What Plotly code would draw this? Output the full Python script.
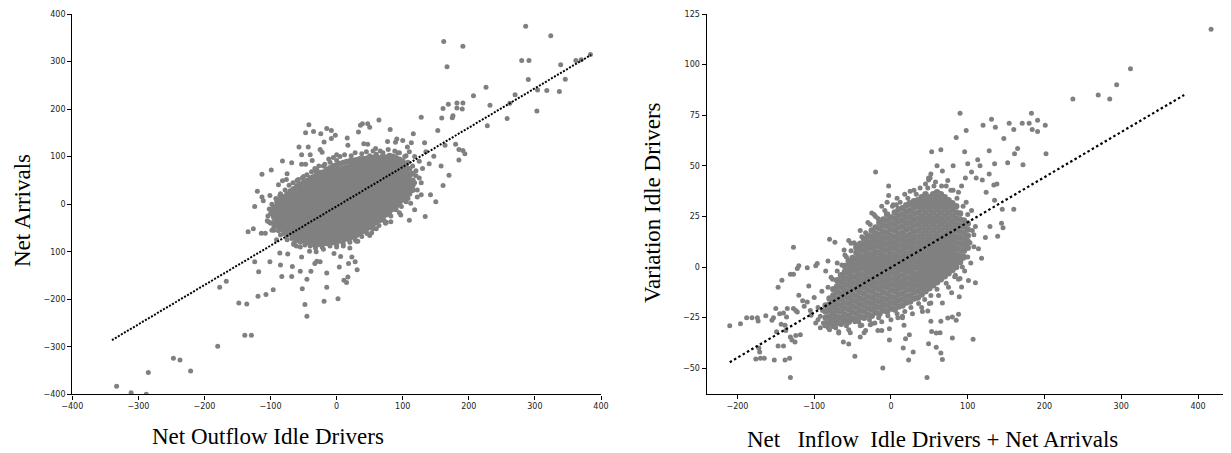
import plotly.graph_objects as go

# ---------------- Left panel data: Net Outflow Idle Drivers vs Net Arrivals ----------------
left_upper = [(286,374),(324,354),(162,342),(191,332),(167,289),(280,302),(291,302),(339,293),(362,302),(370,304),
              (384,315),(290,262),(346,263),(337,237),(318,239),(304,240),(303,196),(270,230),(262,212),(258,180),
              (226,246),(207,228),(232,208),(228,165),(182,213),(191,213),(169,210),(161,201),(190,200),(182,202),
              (176,186),(175,182),(159,181),(128,183),(153,155),(180,126),(185,115),(191,113),(194,106),(185,93),
              (164,124),(147,101),(158,80),(170,61),(161,39),(150,5),(134,-26),(110,-34),(97,-23),(142,20),
              (133,129),(116,148),(107,120)]
left_lower = [(-333,-383),(-311,-397),(-288,-400),(-285,-354),(-247,-324),(-237,-328),(-221,-351),(-180,-299),
              (-139,-276),(-129,-276),(-148,-208),(-136,-210),(-119,-194),(-107,-190),(-96,-180),(-177,-175),
              (-167,-162),(-118,-142),(-124,-121),(-101,-121),(-85,-128),(-83,-152),(-68,-152),(-67,-131),
              (-65,-82),(-91,-75),(-86,-103),(-74,-105),(-55,-141),(-52,-178),(-48,-211),(-45,-236),(-45,-158),
              (-39,-141),(-33,-125),(-30,-120),(-19,-204),(-15,-175),(-15,-145),(2,-199),(11,-160),(15,-165),
              (17,-153),(4,-132),(31,-138),(28,-121),(18,-125),(23,-111),(6,-110),(-4,-104),(-25,-121),(-31,-100),
              (-41,-99),(-53,-111),(-61,-88),(20,-92),(32,-78),(34,-62),(44,-55),(53,-60),(65,-35),(74,-40),
              (82,-37),(62,-22),(-134,-58),(-126,-52),(-114,-61),(-108,-61),(-98,-55),(-103,-37),(-99,-14),
              (-111,7),(-113,15),(-120,27),(-124,-5),(-101,18)]
left_mid = [(-113,63),(-99,72),(-82,91),(-88,41),(-82,49),(-75,64),(-76,52),(-68,87),(-57,120),(-53,104),
            (-47,150),(-42,167),(-35,153),(-37,92),(-40,104),(-43,120),(-53,84),(-47,84),(-31,68),(-25,115),
            (-24,148),(-19,131),(-22,109),(-15,159),(-8,155),(-2,145),(-8,138),(0,104),(17,124),(16,139),
            (33,152),(36,166),(39,169),(47,169),(50,162),(64,177),(41,127),(47,126),(59,117),(81,157),
            (77,132),(89,130),(91,137),(100,134),(113,129)]
left_halo = [(120,60),(125,90),(130,75),(118,100),(135,110),(128,45),(140,85),(110,110),(105,102),(95,108),
             (88,112),(70,108),(60,105),(50,102),(-10,88),(0,92),(-20,80),(-30,72),(-50,58),(-60,50),
             (-100,-20),(-105,-35),(-95,-55),(-85,-65),(-75,-75),(-65,-85),(-55,-90),(-20,-95),(0,-90),(10,-88),
             (30,-78),(50,-66),(60,-52),(75,-38),(95,-18),(112,2),(122,15),(118,-12),
             (-85,22),(-78,30),(-72,40),(-66,45),(-58,52),(-52,55),(-45,62),(-38,68),(-33,75),(-27,80),
             (-18,84),(-12,95),(-5,98),(5,100),(12,104),(22,102),(28,108),(38,106),(45,110),(55,112),
             (66,112),(78,115),(92,108),(103,100),(108,88),(115,80),(120,70),(125,55),(118,45),(112,35),
             (122,30),(128,20),(108,12),(105,5),(98,-5),(90,-12),(82,-25),(72,-35),(64,-45),(55,-52),
             (46,-62),(38,-68),(28,-75),(20,-80),(10,-84),(0,-86),(-10,-88),(-22,-90),(-32,-92),(-40,-88),
             (-48,-86),(-55,-80),(-62,-78),(-68,-72),(-75,-66),(-80,-62),(-88,-56),(-95,-48),(-100,-40),
             (-104,-25),(-102,-10),(-98,0),(-92,12),(-86,18)]
# dense central cloud, read column by column: (x, [y values])
left_core = [
    (-95, [-38,-27,-16,-6]),
    (-90, [-46,-35,-24,-13,-3,5]),
    (-85, [-51,-41,-30,-19,-8,2,10]),
    (-80, [-55,-45,-35,-25,-14,-4,6,15]),
    (-75, [-59,-49,-38,-28,-18,-8,2,12,21]),
    (-70, [-63,-53,-43,-33,-23,-13,-3,7,17,27]),
    (-65, [-67,-57,-47,-37,-27,-17,-7,3,13,23,32]),
    (-60, [-71,-61,-51,-41,-31,-21,-11,-1,9,19,29,38]),
    (-55, [-74,-64,-54,-44,-34,-24,-14,-4,6,16,26,35,42]),
    (-50, [-77,-67,-57,-47,-37,-27,-17,-7,3,13,23,33,45]),
    (-45, [-80,-70,-60,-50,-40,-30,-20,-10,0,10,20,30,40,49]),
    (-40, [-82,-72,-62,-52,-42,-32,-22,-12,-2,8,18,28,38,48,55]),
    (-35, [-84,-74,-64,-54,-44,-34,-24,-14,-4,6,16,26,36,46,57]),
    (-30, [-85,-75,-65,-55,-45,-35,-25,-15,-5,5,15,25,35,45,55,62]),
    (-25, [-84,-74,-64,-54,-44,-34,-24,-14,-4,6,16,26,36,46,56,66]),
    (-20, [-83,-73,-63,-53,-43,-33,-23,-13,-3,7,17,27,37,47,57,67]),
    (-15, [-82,-72,-62,-52,-42,-32,-22,-12,-2,8,18,28,38,48,58,68,73]),
    (-10, [-81,-71,-61,-51,-41,-31,-21,-11,-1,9,19,29,39,49,59,69,76]),
    (-5,  [-80,-70,-60,-50,-40,-30,-20,-10,0,10,20,30,40,50,60,70,80]),
    (0,   [-78,-68,-58,-48,-38,-28,-18,-8,2,12,22,32,42,52,62,72,82]),
    (5,   [-77,-67,-57,-47,-37,-27,-17,-7,3,13,23,33,43,53,63,73,85]),
    (10,  [-75,-65,-55,-45,-35,-25,-15,-5,5,15,25,35,45,55,65,75,87]),
    (15,  [-73,-63,-53,-43,-33,-23,-13,-3,7,17,27,37,47,57,67,77,89]),
    (20,  [-71,-61,-51,-41,-31,-21,-11,-1,9,19,29,39,49,59,69,79,91]),
    (25,  [-68,-58,-48,-38,-28,-18,-8,2,12,22,32,42,52,62,72,82,92]),
    (30,  [-65,-55,-45,-35,-25,-15,-5,5,15,25,35,45,55,65,75,85,93]),
    (35,  [-61,-51,-41,-31,-21,-11,-1,9,19,29,39,49,59,69,79,89,95]),
    (40,  [-57,-47,-37,-27,-17,-7,3,13,23,33,43,53,63,73,83,95]),
    (45,  [-53,-43,-33,-23,-13,-3,7,17,27,37,47,57,67,77,87,96]),
    (50,  [-48,-38,-28,-18,-8,2,12,22,32,42,52,62,72,82,92,98]),
    (55,  [-43,-33,-23,-13,-3,7,17,27,37,47,57,67,77,87,98]),
    (60,  [-38,-28,-18,-8,2,12,22,32,42,52,62,72,82,92,100]),
    (65,  [-33,-23,-13,-3,7,17,27,37,47,57,67,77,87,97]),
    (70,  [-27,-17,-7,3,13,23,33,43,53,63,73,83,93,101]),
    (75,  [-22,-12,-2,8,18,28,38,48,58,68,78,88,98]),
    (80,  [-16,-6,4,14,24,34,44,54,64,74,84,94,102]),
    (85,  [-10,0,10,20,30,40,50,60,70,80,90,100]),
    (90,  [-4,6,16,26,36,46,56,66,76,86,97]),
    (95,  [3,13,23,33,43,53,63,73,83,94]),
    (100, [9,19,29,39,49,59,69,79,90]),
    (105, [15,25,35,45,55,65,75,84]),
    (110, [22,32,42,52,62,74]),
    (115, [30,40,50,64]),
]
left_fit_x = [-340, 385]
left_fit_y = [-286, 314]

# ---------------- Right panel data: Net Inflow Idle Drivers + Net Arrivals vs Variation Idle Drivers ----------------
right_pts = [(417,117.5),(312,98),(294,90),(270,85),(285,83),(237,83),(183,76),(180,71),(191,72.5),(201,70),
             (184,68),(191,67),(171,71),(154,71),(160,68),(136,69),(131,73),(120,70),(98,67.5),(85,64),(90,76),
             (147,63.5),(165,58.6),(161,56),(202,56),(128,57.5),(96,57),(65,58),(53,57),(172,50.5),(152,51.5),
             (135,51),(116,50),(113,53),(100,51),(81,50),(60,50),(67,47.5),(49,44),(51,44),(128,46),(105,47),
             (97,44),(111,44),(119,43),(134,40.5),(138,41),(124,37),(135,33),(145,28.5),(160,28.6),(144,21.7),
             (146,19.4),(139,15.2),(129,20),(123,14.6),(108,16),(118,4.3),(114,9),(110,-7.8),(101,-6.6),(90,-5.6),
             (92,-9.8),(89,-14.7),(79,-12.7),(94,4.3),(83,-4.8),(52,-17.7),(48,-21.7),(41,-22),(67,-17.7),
             (80,-24.7),(88,-23.3),(85,-26.3),(74,-25.2),(65,-26.8),(52,-26.8),(53,-31.8),(59,-32.6),(64,-32.5),
             (80,-35),(107,-35.6),(49,-37.9),(59,-39.6),(65,-42.5),(67,-45.7),(47,-54.5),(29,-42),(23,-45.9),
             (16,-40),(24,-33.4),(19,-35.4),(-2,-36),(-10.6,-49.8),(-12,-31.3),(-2,-30.5),(17,-28.8),(15,-24.3),
             (9,-25),(-47,-44),(-62,-37),(-55,-38),(-53,-32.5),(-68,-32.6),(-40,-34.6),(-35,-32.5),(-33,-31.3),
             (-38,-28.8),(-27,-28.5),(-21,-27.6),(-17,-31.3),(-47,-27),(-54,-26.8),(-75,-28.8),(-82,-29.8),
             (-88,-27.6),(-98,-27.6),(-92,-24.3),(-89,-21.4),(-104,-23.8),(-105,-21.4),(-113,-19.4),(-109,-17.2),
             (-115,-16.7),(-107,-9.3),(-120,-13.9),(-124,-21.4),(-122,-22.2),(-127,-20.5),(-135,-20.5),
             (-136,-24.7),(-140,-22.7),(-145,-23),(-150,-20.5),(-153,-25),(-155,-26.3),(-163,-24),(-174,-25),
             (-181,-25),(-188,-25),(-196,-28),(-210,-29),(-173,-26.7),(-149,-32),(-143,-28.3),(-138,-28.8),
             (-137,-31.3),(-131,-34.6),(-129,-36),(-125,-37),(-124,-33.8),(-118,-33.4),(-147,-39),(-140,-39),
             (-132,-45),(-138,-45.9),(-152,-45.9),(-165,-45),(-170,-45),(-176,-45.4),(-171,-42),(-172,-40),
             (-131,-54.5),(-127,-3.5),(-147,-10),(-142,-6.5),(-131,-3.6),(-122,-0.7),(-120,0.7),(-109,-0.3),
             (-98,0.7),(-96,1.8),(-127,9.8),(-82,3),(-80,13.7),(-73,12.3),(-61,8.4),(-55,13.1),(-52,11.8),
             (-43,9.6),(-39,11.3),(-35,14.2),(-25,26.7),(-20,25),(-20,46.9),(-3,40),(3,30.8),(7,30.8),(-3,35.3),
             (25,37.4),(29,32),(24,32),(38,39),(42,32.5),(49,43),(52,46),(74,42.7),(81,38),(92,40)]
right_halo = [(-90,-12),(-95,-20),(-100,-15),(-78,-5),(-85,-2),(-70,2),(-60,6),(-48,12),(-40,18),(-30,22),
              (-22,26),(-12,30),(-5,32),(8,34),(18,36),(30,38),(45,41),(58,42),(72,40),(88,37),(98,32),(105,28),
              (110,20),(108,10),(104,2),(96,-2),(88,-6),(75,-10),(62,-14),(50,-18),(40,-20),(28,-23),(15,-25),
              (0,-26),(-12,-27),(-25,-28),(-40,-29),(-55,-31),(-68,-32),(-80,-31),(-92,-30),
              (-82,-10),(-76,-6),(-70,-2),(-64,1),(-58,5),(-52,8),(-46,11),(-38,15),(-33,17),(-27,21),
              (-17,24),(-8,28),(2,30),(12,32),(22,34),(33,36),(48,39),(56,40),(66,40),(78,38),(86,34),
              (94,30),(100,26),(106,18),(103,12),(100,5),(93,0),(84,-4),(72,-8),(60,-11),(52,-14),(44,-16),
              (36,-18),(26,-20),(18,-22),(8,-23),(-4,-24),(-16,-25),(-28,-26),(-42,-27),(-58,-29),(-72,-30),
              (-86,-29),(-95,-26)]
right_core = [
    (-85, [-28,-25,-22,-19]),
    (-80, [-27.5,-24.5,-21.5,-18.5,-15.5]),
    (-75, [-29,-26,-23,-20,-17,-14,-11]),
    (-70, [-27.5,-24.5,-21.5,-18.5,-15.5,-12.5,-9.5,-6.5]),
    (-65, [-28,-25,-22,-19,-16,-13,-10,-7,-4]),
    (-60, [-26.5,-23.5,-20.5,-17.5,-14.5,-11.5,-8.5,-5.5,-2.5,0.5]),
    (-55, [-27,-24,-21,-18,-15,-12,-9,-6,-3,0,3]),
    (-50, [-25.5,-22.5,-19.5,-16.5,-13.5,-10.5,-7.5,-4.5,-1.5,1.5,4.5]),
    (-45, [-26,-23,-20,-17,-14,-11,-8,-5,-2,1,4,7,9.5]),
    (-40, [-24.5,-21.5,-18.5,-15.5,-12.5,-9.5,-6.5,-3.5,-0.5,2.5,5.5,8.5,11.5]),
    (-35, [-25,-22,-19,-16,-13,-10,-7,-4,-1,2,5,8,11,14]),
    (-30, [-23.5,-20.5,-17.5,-14.5,-11.5,-8.5,-5.5,-2.5,0.5,3.5,6.5,9.5,12.5,15.5]),
    (-25, [-24,-21,-18,-15,-12,-9,-6,-3,0,3,6,9,12,15,18]),
    (-20, [-22.5,-19.5,-16.5,-13.5,-10.5,-7.5,-4.5,-1.5,1.5,4.5,7.5,10.5,13.5,16.5,19.5]),
    (-15, [-23,-20,-17,-14,-11,-8,-5,-2,1,4,7,10,13,16,19,22]),
    (-10, [-21.5,-18.5,-15.5,-12.5,-9.5,-6.5,-3.5,-0.5,2.5,5.5,8.5,11.5,14.5,17.5,20.5,23.5]),
    (-5,  [-22,-19,-16,-13,-10,-7,-4,-1,2,5,8,11,14,17,20,23,26]),
    (0,   [-20.5,-17.5,-14.5,-11.5,-8.5,-5.5,-2.5,0.5,3.5,6.5,9.5,12.5,15.5,18.5,21.5,24.5]),
    (5,   [-21,-18,-15,-12,-9,-6,-3,0,3,6,9,12,15,18,21,24,27]),
    (10,  [-19.5,-16.5,-13.5,-10.5,-7.5,-4.5,-1.5,1.5,4.5,7.5,10.5,13.5,16.5,19.5,22.5,25.5,28.5]),
    (15,  [-19,-16,-13,-10,-7,-4,-1,2,5,8,11,14,17,20,23,26,29]),
    (20,  [-17.5,-14.5,-11.5,-8.5,-5.5,-2.5,0.5,3.5,6.5,9.5,12.5,15.5,18.5,21.5,24.5,27.5,30.5]),
    (25,  [-17,-14,-11,-8,-5,-2,1,4,7,10,13,16,19,22,25,28,31]),
    (30,  [-15.5,-12.5,-9.5,-6.5,-3.5,-0.5,2.5,5.5,8.5,11.5,14.5,17.5,20.5,23.5,26.5,29.5,32.5]),
    (35,  [-15,-12,-9,-6,-3,0,3,6,9,12,15,18,21,24,27,30,33]),
    (40,  [-13.5,-10.5,-7.5,-4.5,-1.5,1.5,4.5,7.5,10.5,13.5,16.5,19.5,22.5,25.5,28.5,31.5,34.5]),
    (45,  [-12,-9,-6,-3,0,3,6,9,12,15,18,21,24,27,30,33,36]),
    (50,  [-10.5,-7.5,-4.5,-1.5,1.5,4.5,7.5,10.5,13.5,16.5,19.5,22.5,25.5,28.5,31.5,34.5]),
    (55,  [-9,-6,-3,0,3,6,9,12,15,18,21,24,27,30,33,36]),
    (60,  [-7.5,-4.5,-1.5,1.5,4.5,7.5,10.5,13.5,16.5,19.5,22.5,25.5,28.5,31.5,34.5,37]),
    (65,  [-6,-3,0,3,6,9,12,15,18,21,24,27,30,33,36]),
    (70,  [-4.5,-1.5,1.5,4.5,7.5,10.5,13.5,16.5,19.5,22.5,25.5,28.5,31.5,34.5]),
    (75,  [-3,0,3,6,9,12,15,18,21,24,27,30,33]),
    (80,  [-1.5,1.5,4.5,7.5,10.5,13.5,16.5,19.5,22.5,25.5,28.5,31.5]),
    (85,  [0,3,6,9,12,15,18,21,24,27,30]),
    (90,  [2.5,5.5,8.5,11.5,14.5,17.5,20.5,23.5,26.5]),
    (95,  [5,8,11,14,17,20,23]),
    (100, [9.5,12.5,15.5,18.5,21.5]),
]
right_fit_x = [-210, 382]
right_fit_y = [-47, 85]

left_yticks = [-400, -300, -200, -100, 0, 100, 200, 300, 400]
left_yticklabels = ["\u2212400", "\u2212300", "\u2212200", "100", "0", "100", "200", "300", "400"]
left_xticks = [-400, -300, -200, -100, 0, 100, 200, 300, 400]
left_xticklabels = ["\u2212400", "\u2212300", "\u2212200", "\u2212100", "0", "100", "200", "300", "400"]


def flatten_pairs(pairs_lists):
    xs, ys = [], []
    for pl in pairs_lists:
        for x, y in pl:
            xs.append(x)
            ys.append(y)
    return xs, ys


def flatten_cols(cols):
    xs, ys = [], []
    for cx, yl in cols:
        for y in yl:
            xs.append(cx)
            ys.append(y)
    return xs, ys


lx, ly = flatten_pairs([left_upper, left_lower, left_mid, left_halo])
lcx, lcy = flatten_cols(left_core)
rx, ry = flatten_pairs([right_pts, right_halo])
rcx, rcy = flatten_cols(right_core)

W, H = 1231, 453
OFF = 8  # the page body offsets the figure by 8px; layout positions below are in page px minus this
GRAY = "#808080"

fig = go.Figure()
fig.add_trace(go.Scatter(x=lcx, y=lcy, mode="markers", marker=dict(size=6, color=GRAY),
                         xaxis="x", yaxis="y", showlegend=False, hoverinfo="skip"))
fig.add_trace(go.Scatter(x=lx, y=ly, mode="markers", marker=dict(size=5, color=GRAY),
                         xaxis="x", yaxis="y", showlegend=False, hoverinfo="skip"))
fig.add_trace(go.Scatter(x=left_fit_x, y=left_fit_y, mode="lines",
                         line=dict(color="black", width=2, dash="2px,1.5px"),
                         xaxis="x", yaxis="y", showlegend=False))
fig.add_trace(go.Scatter(x=rcx, y=rcy, mode="markers", marker=dict(size=6.5, color=GRAY),
                         xaxis="x2", yaxis="y2", showlegend=False, hoverinfo="skip"))
fig.add_trace(go.Scatter(x=rx, y=ry, mode="markers", marker=dict(size=5, color=GRAY),
                         xaxis="x2", yaxis="y2", showlegend=False, hoverinfo="skip"))
fig.add_trace(go.Scatter(x=right_fit_x, y=right_fit_y, mode="lines",
                         line=dict(color="black", width=2.2, dash="2.5px,2.5px"),
                         xaxis="x2", yaxis="y2", showlegend=False))

tickfont = dict(family="DejaVu Sans", size=8, color="#222")
common = dict(showgrid=False, zeroline=False, showline=True, linecolor="black", linewidth=1.4,
              ticks="outside", ticklen=4, tickwidth=1, tickcolor="black", tickfont=tickfont,
              automargin=False)


def px_x(p):
    return (p - OFF) / W


def px_y(p):
    return 1 - (p - OFF) / H


x2_left_px = 706.7
x2_scale = 0.7677  # px per unit
x2_right_val = -240 + (W + OFF - x2_left_px) / x2_scale

fig.update_layout(
    width=W, height=H,
    margin=dict(l=0, r=0, t=0, b=0, pad=0, autoexpand=False),
    paper_bgcolor="white", plot_bgcolor="white",
    xaxis=dict(domain=[px_x(72.3), px_x(601)], range=[-400, 400], anchor="y",
               tickvals=left_xticks, ticktext=left_xticklabels, **common),
    yaxis=dict(domain=[px_y(394.3), px_y(14)], range=[-400, 400], anchor="x",
               tickvals=left_yticks, ticktext=left_yticklabels, **common),
    xaxis2=dict(domain=[px_x(x2_left_px), 1.0], range=[-240, x2_right_val], anchor="y2",
                tickmode="linear", tick0=0, dtick=100, **common),
    yaxis2=dict(domain=[px_y(394), px_y(14)], range=[-62.7, 125], anchor="x2",
                tickmode="linear", tick0=0, dtick=25, **common),
)

serif = dict(family="Liberation Serif, Times New Roman, serif", size=23, color="black")
ann = [
    dict(text="Net Arrivals", x=px_x(22), y=px_y(211), textangle=-90),
    dict(text="Net Outflow Idle Drivers", x=px_x(268), y=px_y(436), textangle=0),
    dict(text="Variation Idle Drivers", x=px_x(652), y=px_y(203), textangle=-90),
    dict(text="Net\u00a0\u00a0 Inflow\u00a0 Idle Drivers + Net Arrivals", x=px_x(932), y=px_y(439), textangle=0),
]
for a in ann:
    fig.add_annotation(xref="paper", yref="paper", showarrow=False, xanchor="center", yanchor="middle",
                       font=serif, **a)

fig.write_html("out.html")
